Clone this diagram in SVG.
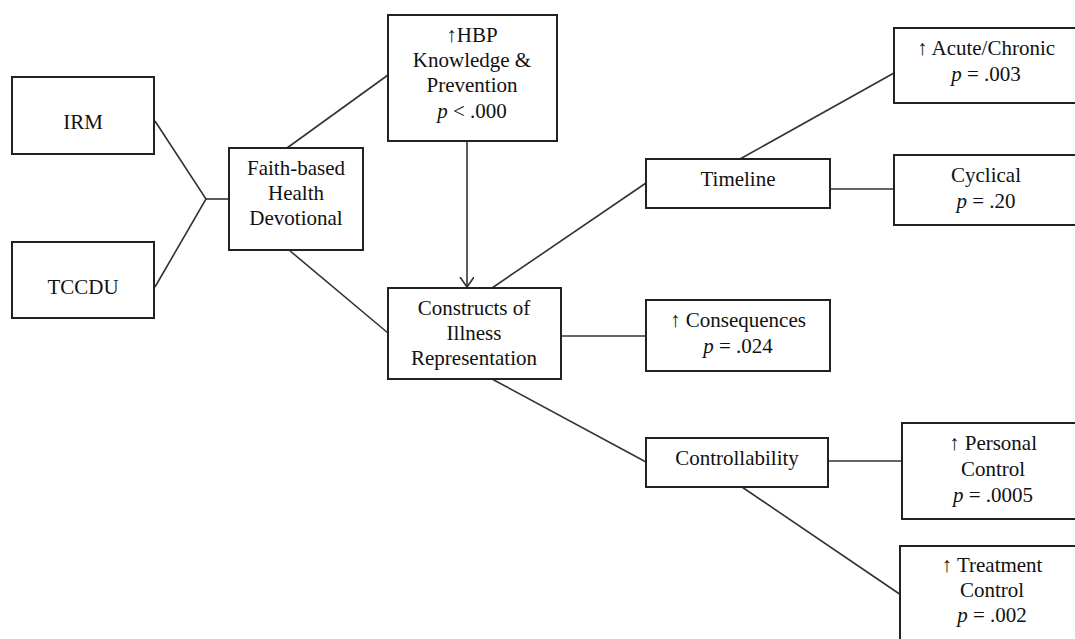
<svg xmlns="http://www.w3.org/2000/svg" width="1075" height="639" viewBox="0 0 1075 639">
<style>
.box{fill:#fff;stroke:#222;stroke-width:2}
.ln{fill:none;stroke:#333;stroke-width:1.6}
text{font-family:"Liberation Serif","Times New Roman",serif;font-size:21px;fill:#111;text-anchor:middle}
.i{font-style:italic}
</style>
<defs>
<marker id="ah" markerWidth="16" markerHeight="16" refX="10" refY="7" orient="auto" markerUnits="userSpaceOnUse">
<path d="M0,0 L10,7 L0,14" fill="none" stroke="#333" stroke-width="1.6"/>
</marker>
</defs>
<rect width="1075" height="639" fill="#fff"/>
<g id="connectors">
<polyline class="ln" points="155,121 206,199 155,287"/>
<line class="ln" x1="206" y1="199" x2="229" y2="199"/>
<line class="ln" x1="287" y1="148" x2="388" y2="75"/>
<line class="ln" x1="289" y1="250" x2="388" y2="333"/>
<line class="ln" x1="467" y1="141" x2="467" y2="287" marker-end="url(#ah)"/>
<line class="ln" x1="492" y1="288" x2="646" y2="183"/>
<line class="ln" x1="740" y1="159" x2="894" y2="73"/>
<line class="ln" x1="830" y1="189" x2="894" y2="189"/>
<line class="ln" x1="561" y1="336" x2="646" y2="336"/>
<line class="ln" x1="492" y1="379" x2="646" y2="462"/>
<line class="ln" x1="828" y1="461" x2="902" y2="461"/>
<line class="ln" x1="742" y1="487" x2="901" y2="595"/>
</g>
<g id="irm"><rect class="box" x="12" y="77" width="142" height="77"/><text x="83" y="129">IRM</text></g>
<g id="tccdu"><rect class="box" x="12" y="242" width="142" height="76"/><text x="83" y="294">TCCDU</text></g>
<g id="faith"><rect class="box" x="229" y="148" width="134" height="102"/>
<text x="296" y="175">Faith-based</text><text x="296" y="200">Health</text><text x="296" y="225">Devotional</text></g>
<g id="hbp"><rect class="box" x="388" y="15" width="169" height="126"/>
<text x="472" y="42">↑HBP</text><text x="472" y="67">Knowledge &amp;</text><text x="472" y="92">Prevention</text><text x="472" y="118"><tspan class="i">p</tspan> &lt; .000</text></g>
<g id="constructs"><rect class="box" x="388" y="288" width="173" height="91"/>
<text x="474" y="315">Constructs of</text><text x="474" y="340">Illness</text><text x="474" y="365">Representation</text></g>
<g id="timeline"><rect class="box" x="646" y="159" width="184" height="49"/><text x="738" y="186">Timeline</text></g>
<g id="acute"><rect class="box" x="894" y="28" width="184" height="75"/>
<text x="986" y="55">↑ Acute/Chronic</text><text x="986" y="81"><tspan class="i">p</tspan> = .003</text></g>
<g id="cyclical"><rect class="box" x="894" y="155" width="184" height="70"/>
<text x="986" y="182">Cyclical</text><text x="986" y="208"><tspan class="i">p</tspan> = .20</text></g>
<g id="consequences"><rect class="box" x="646" y="300" width="184" height="71"/>
<text x="738" y="327">↑ Consequences</text><text x="738" y="353"><tspan class="i">p</tspan> = .024</text></g>
<g id="controllability"><rect class="box" x="646" y="438" width="182" height="49"/><text x="737" y="465">Controllability</text></g>
<g id="personal"><rect class="box" x="902" y="423" width="184" height="96"/>
<text x="993" y="450">↑ Personal</text><text x="993" y="476">Control</text><text x="993" y="502"><tspan class="i">p</tspan> = .0005</text></g>
<g id="treatment"><rect class="box" x="900" y="546" width="186" height="110"/>
<text x="992" y="572">↑ Treatment</text><text x="992" y="597">Control</text><text x="992" y="622"><tspan class="i">p</tspan> = .002</text></g>
</svg>
